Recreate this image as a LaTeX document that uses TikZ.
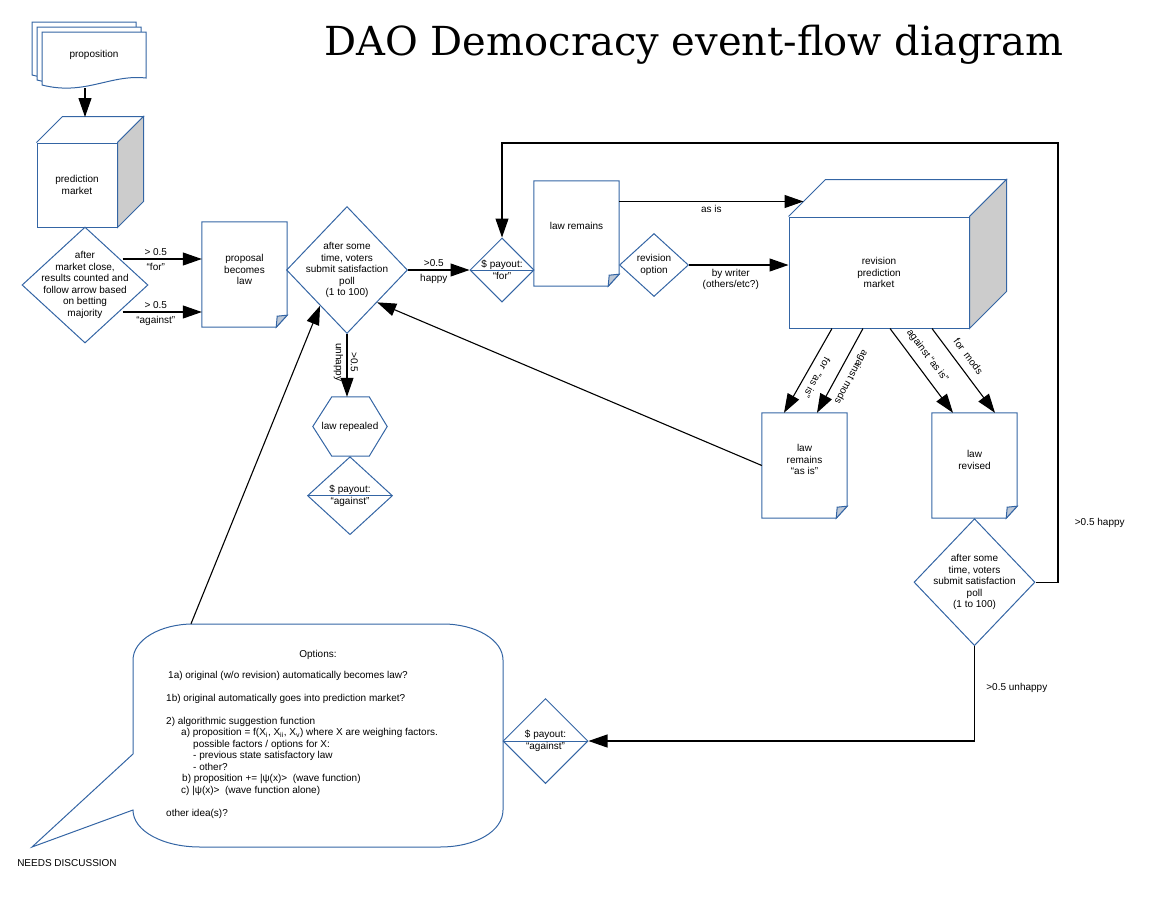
\documentclass[tikz,border=0pt]{standalone}
\usepackage{fontspec}
\setmainfont{Liberation Sans}
\newfontfamily\titlefont{DejaVu Serif}
\usetikzlibrary{arrows.meta, shapes.geometric, positioning}

\definecolor{shapeblue}{RGB}{52,101,164}
\definecolor{sidegray}{RGB}{204,204,204}
\definecolor{foldgray}{RGB}{190,200,214}

\begin{document}
\begin{tikzpicture}[x = 1pt, y = -1pt,
	every node/.style = {font = \fontsize{10}{11.5}\selectfont, align = center},
	shape line/.style = {draw = shapeblue, line width = 1pt},
	decide/.style = {diamond, shape line, inner sep = 0pt},
	payout/.style = {decide, path picture = {\draw[shapeblue, line width = 1pt] (path picture bounding box.west) -- (path picture bounding box.east);}},
	docbox/.style = {minimum width = 85, minimum height = 105, inner sep = 0pt},
	cube/.style = {rectangle, shape line, inner sep = 0pt},
	arr/.style = {-{Triangle[length = 19pt, width = 13pt]}, line width = 1.1pt}
]
	\useasboundingbox (0, 0) rectangle (1163, 900);

	%	title
	\node[font = \titlefont\fontsize{40}{48}\selectfont] (title) at (694, 45) {DAO Democracy event-flow diagram};

	%	proposition (stack of papers)
	\foreach \s in {10, 5, 0}
		\draw[shape line, fill = white, shift = {(-\s, -\s)}] (42, 32) -- (146, 32) -- (146, 78) .. controls (110, 74) and (85, 96) .. (42, 85) -- cycle;
	\node (prop) at (94, 55) {proposition};
	\coordinate (prop bottom) at (85, 88);

	%	prediction market
	\node[cube, minimum width = 80, minimum height = 84] (pm) at (77, 185) {prediction\\market};
	\coordinate (pm top) at (85, 117);
	\node[decide, minimum width = 126, minimum height = 116] (close) at (85, 285) {};
	\node (close text) at (close) {after\\market close,\\results counted and\\follow arrow based\\on betting\\majority};

	%	documents
	\node[docbox] (becomes) at (244.5, 274.5) {};
	\node[docbox] (remains) at (576.5, 233.5) {};
	\node[docbox] (asis) at (804.5, 465.5) {};
	\node[docbox] (revised) at (974.5, 465.5) {};
	\foreach \docname in {becomes, remains, asis, revised} {
		\draw[shape line] (\docname.north west) -- (\docname.north east) -- ([shift = {(0, -12)}]\docname.south east) -- ([shift = {(-11, 0)}]\docname.south east) -- (\docname.south west) -- cycle;
		\draw[shape line, fill = foldgray] ([shift = {(0, -12)}]\docname.south east) -- ([shift = {(-11, 0)}]\docname.south east) -- ([shift = {(-10, -11)}]\docname.south east) -- cycle;
	}
	\node (becomes text) at ([shift = {(0, -5)}]becomes.center) {proposal\\becomes\\law};
	\node (remains text) at ([shift = {(0, -7.5)}]remains.center) {law remains};
	\node (asis text) at ([shift = {(0, -6)}]asis.center) {law\\remains\\“as is”};
	\node (revised text) at ([shift = {(0, -5.5)}]revised.center) {law\\revised};

	%	satisfaction polls
	\node[decide, minimum width = 121, minimum height = 127] (poll1) at (347, 270) {};
	\node (poll1 text) at (poll1) {after some\\time, voters\\submit satisfaction\\poll\\(1 to 100)};
	\node[decide, minimum width = 121, minimum height = 127, below = 0pt of revised] (poll2) {};
	\node (poll2 text) at (poll2) {after some\\time, voters\\submit satisfaction\\poll\\(1 to 100)};

	%	law repealed
	\node[minimum width = 74, minimum height = 59, inner sep = 0pt] (repeal) at (350, 426.5) {law repealed};
	\draw[shape line] (repeal.west) -- ([shift = {(19, 0)}]repeal.north west) -- ([shift = {(-18, 0)}]repeal.north east) -- (repeal.east) -- ([shift = {(-18, 0)}]repeal.south east) -- ([shift = {(19, 0)}]repeal.south west) -- cycle;

	%	payouts
	\node[payout, minimum width = 64, minimum height = 64] (payfor) at (502, 270) {};
	\node (payfor text) at (payfor) {\$ payout:\\“for”};
	\node[payout, minimum width = 85, minimum height = 78, below = 0pt of repeal] (against1) {};
	\node (against1 text) at (against1) {\$ payout:\\“against”};
	\node[payout, minimum width = 85, minimum height = 85] (against2) at (545.5, 741) {};
	\node (against2 text) at (against2) {\$ payout:\\“against”};

	%	revision
	\node[decide, minimum width = 69, minimum height = 63] (revopt) at (654, 265) {};
	\node (revopt text) at (revopt) {revision\\option};
	\node[cube, minimum width = 180, minimum height = 111] (rpm) at (879, 272.5) {revision\\prediction\\market};

	%	cube faces
	\foreach \cname/\dep in {pm/26, rpm/37} {
		\draw[shape line] (\cname.north west) -- ([shift = {(\dep, -\dep)}]\cname.north west) -- ([shift = {(\dep, -\dep)}]\cname.north east) -- (\cname.north east);
		\draw[shape line, fill = sidegray] (\cname.north east) -- ([shift = {(\dep, -\dep)}]\cname.north east) -- ([shift = {(\dep, -\dep)}]\cname.south east) -- (\cname.south east) -- cycle;
	}

	%	options callout
	\draw[shape line] (133, 754) -- (133, 660) .. controls (133, 640) and (160, 624) .. (193, 624) -- (443, 624) .. controls (476, 624) and (503, 640) .. (503, 660) -- (503, 810) .. controls (503, 831) and (476, 847) .. (440, 847) -- (200, 847) .. controls (163, 847) and (133, 831) .. (133, 810) -- (32, 847) -- cycle;
	\node[minimum width = 370, minimum height = 223] (callout) at (318, 735.5) {};
	\node (opts head) at (318, 655) {Options:};
	\node[anchor = north west, align = left, inner sep = 0pt] (opts) at (166, 671) {%
		\hspace*{2pt}1a) original (w/o revision) automatically becomes law?\\[11.5pt]
		1b) original automatically goes into prediction market?\\[11.5pt]
		2) algorithmic suggestion function\\
		\hspace*{15pt}a) proposition = f(X\textsubscript{i}, X\textsubscript{ii}, X\textsubscript{v}) where X are weighing factors.\\
		\hspace*{27pt}possible factors / options for X:\\
		\hspace*{27pt}- previous state satisfactory law\\
		\hspace*{27pt}- other?\\
		\hspace*{16pt}b) proposition += |ψ(x)>\ \ (wave function)\\
		\hspace*{15pt}c) |ψ(x)>\ \ (wave function alone)\\[11.5pt]
		other idea(s)?};
	\node (needs) at (67, 863) {NEEDS DISCUSSION};

	%	connectors
	\draw[arr] (prop bottom) -- (pm top);
	\draw[arr] ([shift = {(-26, -26)}]close.east) -- ([shift = {(0, -15.5)}]becomes.west) node[pos = 0.42, above] {> 0.5} node[pos = 0.42, below] {“for”};
	\draw[arr] ([shift = {(-26, 27)}]close.east) -- ([shift = {(0, 37.5)}]becomes.west) node[pos = 0.42, above] {> 0.5} node[pos = 0.42, below] {“against”};
	\draw[arr] (poll1.east) -- (payfor.west) node[pos = 0.42, above] {>0.5} node[pos = 0.42, below] {happy};
	\draw[arr] (poll1.south) -- (poll1.south |- repeal.north) node[pos = 0.45, sloped, above, allow upside down] {>0.5} node[pos = 0.45, sloped, below, allow upside down] {unhappy};

	\coordinate (rpm corner) at ([shift = {(15, -15)}]rpm.north west);
	\draw[arr] (remains.east |- rpm corner) -- (rpm corner) node[midway, below] {as is};
	\draw[arr] (revopt.east) -- (revopt.east -| rpm.west) node[pos = 0.42, below] {by writer\\(others/etc?)};

	\draw[arr] ([shift = {(-47, 0)}]rpm.south) -- ([shift = {(-20.5, 0)}]asis.north) node[pos = 0.52, sloped, above = 4pt, allow upside down] {for\ \ “as is”};
	\draw[arr] ([shift = {(-16, 0)}]rpm.south) -- ([shift = {(12.5, 0)}]asis.north) node[pos = 0.5, sloped, above = 4pt, allow upside down] {against mods};
	\draw[arr] ([shift = {(11, 0)}]rpm.south) -- ([shift = {(-21.5, 0)}]revised.north) node[pos = 0.42, sloped, above = 5pt] {against “as is”};
	\draw[arr] ([shift = {(53, 0)}]rpm.south) -- ([shift = {(20.5, 0)}]revised.north) node[pos = 0.42, sloped, above = 5pt] {for\ \ mods};

	\draw[arr] (asis.west) -- (poll1.-47);
	\draw[arr] ([shift = {(-127, 0)}]callout.north) -- (poll1.233);

	\coordinate (loop corner) at (1058, 143);
	\draw[arr] (poll2.east) -| (loop corner) node[pos = 0.567, right = 13pt] {>0.5 happy} -| (payfor.north);
	\draw[arr] (poll2.south) |- (against2.east) node[pos = 0.22, right = 8pt] {>0.5 unhappy};
\end{tikzpicture}
\end{document}
